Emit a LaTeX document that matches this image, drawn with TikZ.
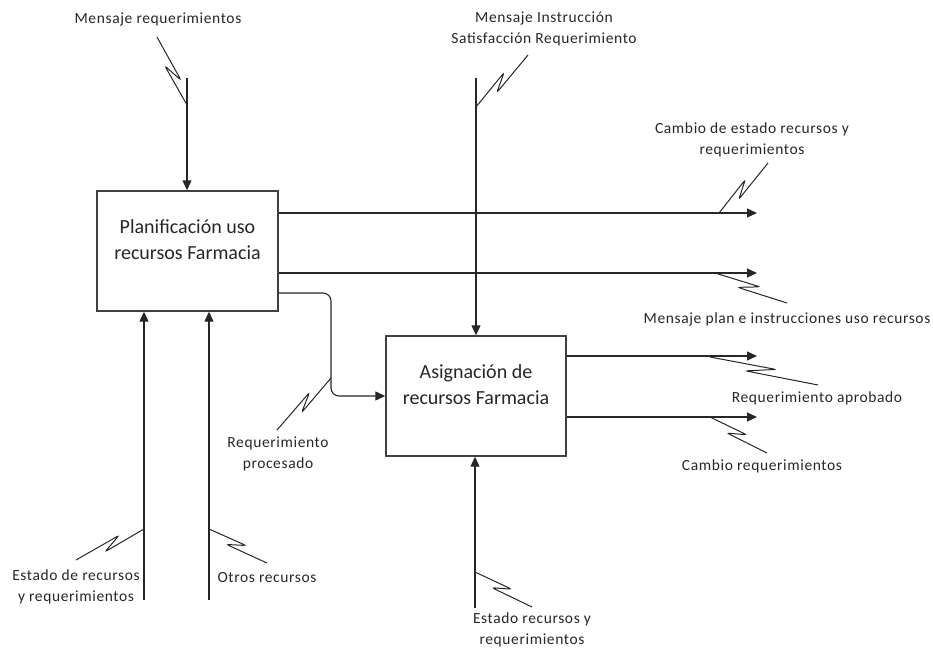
\documentclass[tikz,border=0pt]{standalone}
\usepackage{fontspec}
\setmainfont{Carlito}
\newfontfamily\lblfont[LetterSpace=4]{Carlito}
\usetikzlibrary{arrows.meta, calc, positioning}

% zig-zag lead from a label to its arrow
\newcommand{\squig}[2]{%
  \draw[squigline] (#1) -- ($(#1)!0.66!(#2)!4.5pt!90:(#2)$) -- ($(#1)!0.40!(#2)!4.5pt!-90:(#2)$) -- (#2);}

\begin{document}
\begin{tikzpicture}[x=1pt, y=-1pt,
  box/.style={draw=black!75, line width=1.4pt, minimum width=181pt, minimum height=120pt},
  boxtext/.style={align=center, font=\fontsize{20}{26}\selectfont, text=black!85},
  flow/.style={draw=black!85, line width=1.1pt, -{Triangle[length=10pt,width=9pt]}},
  squigline/.style={draw=black!85, line width=1pt, rounded corners=2.5pt},
  lbl/.style={font=\lblfont\fontsize{15.5}{20.5}\selectfont, align=center, text=black!85, inner sep=0pt}]
  \useasboundingbox (0,0) rectangle (933,647);

  % Activities
  \node[box] (plan) at (187.5,251) {};
  \node[boxtext] (plantxt) at (187.5,240) {Planificación uso\\recursos Farmacia};
  \node[box, minimum width=180pt] (asig) at (476,396) {};
  \node[boxtext] (asigtxt) at (476,385) {Asignación de\\recursos Farmacia};

  % Labels
  \node[lbl] (lreq) at (158,19) {Mensaje requerimientos};
  \node[lbl] (linst) at (544,29) {Mensaje Instrucción\\Satisfacción Requerimiento};
  \node[lbl] (lcambio) at (752,140) {Cambio de estado recursos y\\requerimientos};
  \node[lbl] (lplan) at (787,319) {Mensaje plan e instrucciones uso recursos};
  \node[lbl] (laprob) at (817,398) {Requerimiento aprobado};
  \node[lbl] (lcreq) at (762,466) {Cambio requerimientos};
  \node[lbl] (lproc) at (278,454) {Requerimiento\\procesado};
  \node[lbl] (lestado) at (76,587) {Estado de recursos\\y requerimientos};
  \node[lbl] (lotros) at (267,578) {Otros recursos};
  \node[lbl] (lestado2) at (532,630) {Estado recursos y\\requerimientos};

  % Free ends
  \coordinate (in1) at (187,78);
  \coordinate (ctl1) at (476,78);
  \coordinate (out1) at (757,0);
  \coordinate (mec1) at (144,600);
  \coordinate (mec2) at (209,600);
  \coordinate (mec3) at (475,608);
  \coordinate (bend) at (331,0);

  % Arrows
  \draw[flow] (in1) -- (in1 |- plan.north);
  \draw[flow] (ctl1) -- (ctl1 |- asig.north);
  \draw[flow] (plan.east |- 0,213) -- (out1 |- 0,213);
  \draw[flow] (plan.east |- 0,273) -- (out1 |- 0,273);
  \draw[flow, rounded corners=8pt] (plan.east |- 0,293) -| (bend |- 0,396) -- (asig.west |- 0,396);
  \draw[flow] (asig.east |- 0,356) -- (out1 |- 0,356);
  \draw[flow] (asig.east |- 0,417) -- (out1 |- 0,417);
  \draw[flow] (mec1) -- (mec1 |- plan.south);
  \draw[flow] (mec2) -- (mec2 |- plan.south);
  \draw[flow] (mec3) -- (mec3 |- asig.south);

  % Leads
  \squig{157,37}{187,105}
  \squig{528,55}{476,107}
  \squig{768,163}{719,213}
  \squig{787,303}{715,273}
  \squig{277,430}{331,378}
  \squig{818,385}{710,357}
  \squig{767,453}{710,417}
  \squig{76,560}{144,529}
  \squig{267,563}{209,529}
  \squig{532,607}{475,572}
\end{tikzpicture}
\end{document}
